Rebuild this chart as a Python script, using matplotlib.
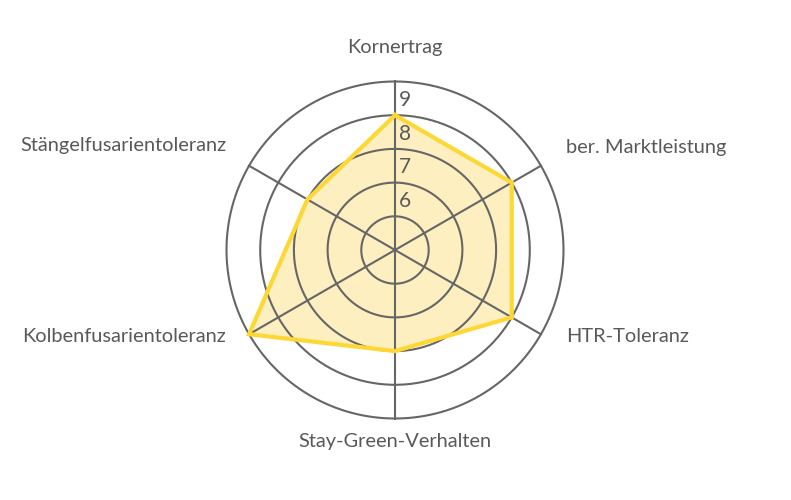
import matplotlib
matplotlib.use("Agg")
import matplotlib.pyplot as plt
import numpy as np

# data
categories = ["Kornertrag", "ber. Marktleistung", "HTR-Toleranz",
              "Stay-Green-Verhalten", "Kolbenfusarientoleranz", "Stängelfusarientoleranz"]
values = [8, 8, 8, 7, 9, 7]
ring_values = [5, 6, 7, 8, 9]
tick_labels = ["6", "7", "8", "9"]
r_min, r_max = 4, 9

grid_color = "#666666"
text_color = "#595959"
line_color = "#fdd835"
fill_color = "#fdefbf"

plt.rcParams['font.family'] = ['Lato', 'DejaVu Sans']

fig = plt.figure(figsize=(7.91, 5), dpi=100)
cx, cy = 395 / 791, 1 - 250 / 500
w, h = 2 * 168.5 / 791, 2 * 168.5 / 500
ax = fig.add_axes([cx - w / 2, cy - h / 2, w, h], projection='polar')
ax.set_theta_zero_location('N')
ax.set_theta_direction(-1)
ax.set_ylim(r_min, r_max)
ax.axis('off')

n = len(categories)
angles = np.arange(n) * 2 * np.pi / n

# rings
t = np.linspace(0, 2 * np.pi, 400)
for rv in ring_values:
    ax.plot(t, np.full_like(t, rv), color=grid_color, lw=1.5, zorder=3, clip_on=False)
# spokes
for a in angles:
    ax.plot([a, a], [r_min, r_max], color=grid_color, lw=1.5, zorder=3, clip_on=False)

# data polygon
ang_closed = np.append(angles, angles[0])
val_closed = np.append(values, values[0])
ax.fill(ang_closed, val_closed, color=fill_color, zorder=2, clip_on=False)
ax.plot(ang_closed, val_closed, color=line_color, lw=3, zorder=4,
        solid_joinstyle='miter', clip_on=False)

# tick labels on vertical axis
for lab in tick_labels:
    ax.annotate(lab, xy=(0, float(lab) - 0.55), xytext=(7, 0), textcoords='offset points',
                ha='center', va='center', fontsize=15, color=text_color, zorder=5)

# category labels
label_pos = {
    "Kornertrag": (395, 48, 'center'),
    "ber. Marktleistung": (566, 147, 'left'),
    "HTR-Toleranz": (566, 336, 'left'),
    "Stay-Green-Verhalten": (395, 441, 'center'),
    "Kolbenfusarientoleranz": (226, 336, 'right'),
    "Stängelfusarientoleranz": (226, 146, 'right'),
}
for cat in categories:
    px, py, ha = label_pos[cat]
    fig.text(px / 791, 1 - py / 500, cat, ha=ha, va='center',
             fontsize=14.4, color=text_color)

fig.savefig("out.png", dpi=100, facecolor="white")
